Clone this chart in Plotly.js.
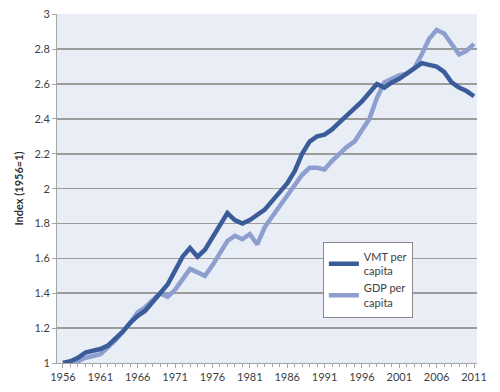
<!DOCTYPE html>
<html>
<head>
<meta charset="utf-8">
<script src="https://cdn.plot.ly/plotly-3.0.1.min.js"></script>
<style>html,body{margin:0;padding:0;background:#fff;}#chart{width:500px;height:392px;}</style>
</head>
<body>
<div id="chart"></div>
<script>
const years = [];
for (let y = 1956; y <= 2011; y++) years.push(y);

const vmtPerCapita = [
  1.00, 1.01, 1.03, 1.06, 1.07, 1.08, 1.10, 1.14, 1.18, 1.23,
  1.27, 1.30, 1.35, 1.40, 1.45, 1.53, 1.61, 1.66, 1.61, 1.65,
  1.72, 1.79, 1.86, 1.82, 1.80, 1.82, 1.85, 1.88, 1.93, 1.98,
  2.03, 2.10, 2.20, 2.27, 2.30, 2.31, 2.34, 2.38, 2.42, 2.46,
  2.50, 2.55, 2.60, 2.58, 2.61, 2.63, 2.66, 2.69, 2.72, 2.71,
  2.70, 2.67, 2.61, 2.58, 2.56, 2.53
];

const gdpPerCapita = [
  1.00, 1.00, 1.01, 1.03, 1.04, 1.05, 1.09, 1.13, 1.18, 1.23,
  1.29, 1.32, 1.36, 1.40, 1.38, 1.42, 1.48, 1.54, 1.52, 1.50,
  1.56, 1.63, 1.70, 1.73, 1.71, 1.74, 1.68, 1.78, 1.84, 1.89,
  1.95, 2.02, 2.08, 2.12, 2.12, 2.11, 2.16, 2.20, 2.24, 2.27,
  2.33, 2.40, 2.52, 2.61, 2.63, 2.65, 2.66, 2.69, 2.77, 2.86,
  2.91, 2.89, 2.83, 2.77, 2.79, 2.83
];

const seriesNames = ['VMT per<br>capita', 'GDP per<br>capita'];
const tickYears = [1956, 1961, 1966, 1971, 1976, 1981, 1986, 1991, 1996, 2001, 2006, 2011];
const xRange = [1955.2, 2011.4];

const FONT = 'Lato, "Open Sans", sans-serif';

const traces = [
  {x: years, y: gdpPerCapita, name: seriesNames[1], mode: 'lines',
   line: {color: '#8c9fcf', width: 4.5}, legendrank: 2},
  {x: years, y: vmtPerCapita, name: seriesNames[0], mode: 'lines',
   line: {color: '#3b5c9a', width: 4.5}, legendrank: 1}
];

const layout = {
  width: 500, height: 392,
  margin: {l: 57, r: 23, t: 14, b: 29},
  paper_bgcolor: '#ffffff',
  plot_bgcolor: 'rgba(0,0,0,0)',
  font: {family: FONT, size: 11, color: '#404040'},
  showlegend: true,
  shapes: [{
    type: 'rect', layer: 'below', xref: 'paper', yref: 'paper',
    x0: 0, x1: 1, y0: 0, y1: 1,
    fillcolor: '#e9edf5', line: {width: 0}
  }],
  legend: {
    x: 0.633, y: 0.347, xanchor: 'left', yanchor: 'top',
    bgcolor: '#ffffff', bordercolor: '#8a8a8a', borderwidth: 1,
    font: {family: FONT, size: 11, color: '#404040'},
    traceorder: 'normal', tracegroupgap: 4, itemwidth: 30
  },
  xaxis: {
    range: xRange,
    tickvals: tickYears, ticktext: tickYears.map(String),
    showgrid: false, zeroline: false,
    showline: true, linecolor: '#a6a6a6', linewidth: 1,
    ticks: 'outside', ticklen: 4, tickcolor: '#a6a6a6',
    minor: {dtick: 1, tick0: 1956, ticks: 'outside', ticklen: 3, tickcolor: '#a6a6a6', showgrid: false},
    tickfont: {family: FONT, size: 11, color: '#404040'}
  },
  yaxis: {
    range: [1, 3.002],
    tickmode: 'linear', tick0: 1, dtick: 0.2,
    showgrid: true, gridcolor: '#9c9c9c', gridwidth: 1.6,
    zeroline: false,
    showline: true, linecolor: '#a6a6a6', linewidth: 1,
    ticks: 'outside', ticklen: 4, tickcolor: '#a6a6a6',
    tickfont: {family: FONT, size: 11, color: '#404040'},
    title: {text: '<b>Index (1956=1)</b>', font: {family: FONT, size: 11, color: '#303030'}, standoff: 8}
  }
};

Plotly.newPlot('chart', traces, layout, {displayModeBar: false, staticPlot: true});
</script>
</body>
</html>
